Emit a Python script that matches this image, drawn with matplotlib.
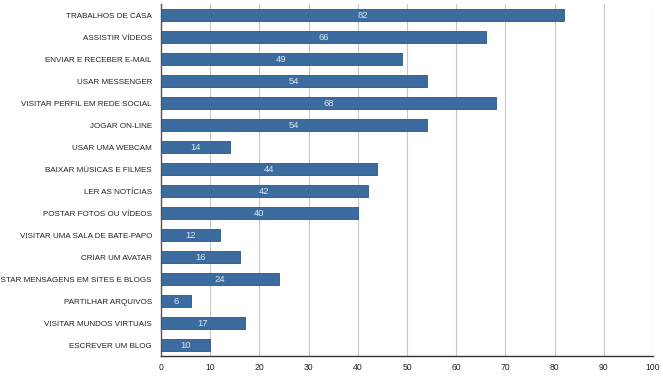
import matplotlib
matplotlib.use("Agg")
import matplotlib.pyplot as plt

categories = ["TRABALHOS DE CASA", "ASSISTIR VÍDEOS", "ENVIAR E RECEBER E-MAIL",
              "USAR MESSENGER", "VISITAR PERFIL EM REDE SOCIAL", "JOGAR ON-LINE",
              "USAR UMA WEBCAM", "BAIXAR MÚSICAS E FILMES", "LER AS NOTÍCIAS",
              "POSTAR FOTOS OU VÍDEOS", "VISITAR UMA SALA DE BATE-PAPO",
              "CRIAR UM AVATAR", "POSTAR MENSAGENS EM SITES E BLOGS",
              "PARTILHAR ARQUIVOS", "VISITAR MUNDOS VIRTUAIS", "ESCREVER UM BLOG"]
values = [82, 66, 49, 54, 68, 54, 14, 44, 42, 40, 12, 16, 24, 6, 17, 10]
xticks = list(range(0, 101, 10))

plt.rcParams['font.family'] = ['Liberation Sans', 'DejaVu Sans']

fig = plt.figure(figsize=(6.63, 3.77), dpi=100)
ax = fig.add_axes([161/663, 1-356/377, (653-161)/663, (356-4)/377])

y = list(range(len(categories)))
bars = ax.barh(y, values, height=0.52, color="#3b6b9f", edgecolor="#2c5585", linewidth=0.6, zorder=3)
for yi, v in zip(y, values):
    ax.text(v/2, yi, str(v), ha="center", va="center", color="#dfe8f2", fontsize=6.8, zorder=4)

ax.set_xlim(0, 100)
ax.set_ylim(len(categories)-0.5, -0.5)
ax.set_xticks(xticks)
ax.set_xticklabels([str(t) for t in xticks], fontsize=6.2, color="#222222")
ax.set_yticks(y)
ax.set_yticklabels(categories, fontsize=5.8, color="#222222")
ax.tick_params(axis="y", length=0, pad=6.5)
ax.tick_params(axis="x", length=0, pad=5)
ax.grid(axis="x", color="#c8c8c8", linewidth=0.8, zorder=0)
for s in ["top", "right"]:
    ax.spines[s].set_visible(False)
ax.spines["left"].set_color("#555555")
ax.spines["bottom"].set_color("#333333")
ax.spines["left"].set_linewidth(1.0)
ax.spines["bottom"].set_linewidth(1.0)

fig.savefig("out.png", dpi=100)
